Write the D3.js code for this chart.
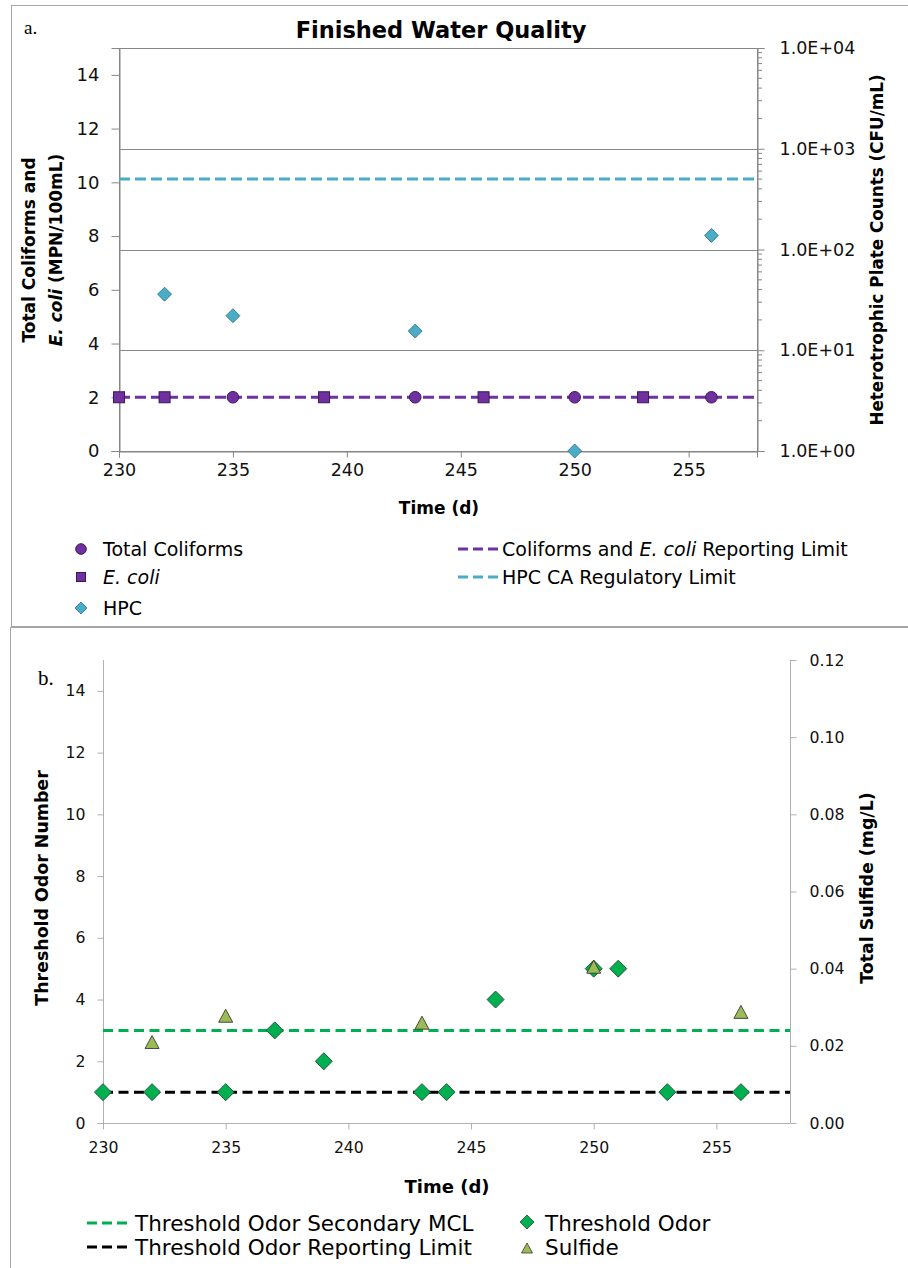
<!DOCTYPE html>
<html><head><meta charset="utf-8">
<script src="https://cdn.jsdelivr.net/npm/d3@7"></script>
<style>
body{margin:0;background:#fff;}
svg{display:block;font-family:"DejaVu Sans",sans-serif;}
</style></head>
<body><svg id="chart" width="908" height="1268"></svg>
<script>
// ---------- Data ----------
const xTicks = [230, 235, 240, 245, 250, 255];
const xDomain = [230, 258];

// Panel a
const coliformDays = [235, 243, 250, 256];
const coliformVals = [2, 2, 2, 2];
const ecoliDays = [230, 232, 239, 246, 253];
const ecoliVals = [2, 2, 2, 2, 2];
const hpcDays = [232, 235, 243, 250, 256];
const hpcVals = [36, 22, 15.5, 1, 138];
const coliformLimit = 2;
const hpcLimit = 500;
const leftTicksA = [0, 2, 4, 6, 8, 10, 12, 14];
const rightTicksA = [1, 10, 100, 1000, 10000];
const rightLabelsA = ["1.0E+00", "1.0E+01", "1.0E+02", "1.0E+03", "1.0E+04"];

// Panel b
const odorDays = [230, 232, 235, 237, 239, 243, 244, 246, 250, 251, 253, 256];
const odorVals = [1, 1, 1, 3, 2, 1, 1, 4, 5, 5, 1, 1];
const sulfideDays = [232, 235, 243, 250, 256];
const sulfideVals = [0.021, 0.0278, 0.026, 0.0405, 0.0288];
const odorMCL = 3;
const odorRL = 1;
const leftTicksB = [0, 2, 4, 6, 8, 10, 12, 14];
const rightTicksB = [0, 0.02, 0.04, 0.06, 0.08, 0.10, 0.12];

// ---------- Styles ----------
const C = {
  purple: "#7030A0", purpleStroke: "#3b1856",
  teal: "#4BACC6", tealStroke: "#2c6f82",
  green: "#00B050", greenStroke: "#1d4d2c",
  olive: "#9BBB59", oliveStroke: "#3a3a2a",
  axisA: "#868686", axisB: "#b0b0b0", border: "#a6a6a6", text: "#111"
};
const DASH = "11,5";

const svg = d3.select("#chart");
svg.append("rect").attr("width", 908).attr("height", 1268).attr("fill", "#fff");

// outer panel borders
svg.append("rect").attr("x", 11.5).attr("y", 5.5).attr("width", 900).attr("height", 621)
  .attr("fill", "none").attr("stroke", C.border);
svg.append("rect").attr("x", 10.5).attr("y", 627.5).attr("width", 900).attr("height", 650)
  .attr("fill", "none").attr("stroke", C.border);

function diamondPath(s) { return `M0,${-s}L${s},0L0,${s}L${-s},0Z`; }
function trianglePath(w, h) { return `M0,${-h/2}L${w/2},${h/2}L${-w/2},${h/2}Z`; }
function styleAxis(a, col, fs) {
  a.select(".domain").attr("stroke", col);
  a.selectAll(".tick line").attr("stroke", col);
  a.selectAll("text").attr("font-size", fs).attr("fill", C.text).attr("font-family", "DejaVu Sans");
}

// ================= PANEL A =================
{
  const L = 119, R = 757, T = 48, B = 451;
  const x = d3.scaleLinear().domain(xDomain).range([L, R]);
  const y = d3.scaleLinear().domain([0, 15]).range([B, T]);
  const yr = d3.scaleLog().domain([1, 10000]).range([B, T]);
  const g = svg.append("g");

  // gridlines at right-axis decades
  g.selectAll(".grid").data(rightTicksA.slice(1, -1)).join("line")
    .attr("x1", L).attr("x2", R).attr("y1", d => Math.round(yr(d)) + 0.5).attr("y2", d => Math.round(yr(d)) + 0.5)
    .attr("stroke", C.axisA).attr("stroke-width", 1);
  // plot box
  g.append("rect").attr("x", L + 0.5).attr("y", T + 0.5).attr("width", R - L).attr("height", B - T)
    .attr("fill", "none").attr("stroke", C.axisA);

  // left axis
  const la = g.append("g").attr("transform", `translate(${L + 0.5},0)`)
    .call(d3.axisLeft(y).tickValues(leftTicksA).tickSize(8).tickPadding(12).tickFormat(d3.format("d")));
  styleAxis(la, C.axisA, 18);

  // right log axis
  const minor = [];
  for (let e = 0; e < 4; e++) for (let k = 2; k <= 9; k++) minor.push(k * Math.pow(10, e));
  g.selectAll(".minor").data(minor).join("line")
    .attr("x1", R).attr("x2", R + 5).attr("y1", d => yr(d)).attr("y2", d => yr(d))
    .attr("stroke", C.axisA);
  const ra = g.append("g").attr("transform", `translate(${R + 0.5},0)`)
    .call(d3.axisRight(yr).tickValues(rightTicksA).tickSize(7).tickPadding(15)
      .tickFormat((d, i) => rightLabelsA[i]));
  styleAxis(ra, C.axisA, 17.5);

  // bottom axis
  const ba = g.append("g").attr("transform", `translate(0,${B + 0.5})`)
    .call(d3.axisBottom(x).tickValues(xTicks).tickSize(6).tickPadding(6).tickFormat(d3.format("d")));
  styleAxis(ba, C.axisA, 17.5);

  // limit lines
  g.append("line").attr("x1", L).attr("x2", R).attr("y1", yr(hpcLimit)).attr("y2", yr(hpcLimit))
    .attr("stroke", C.teal).attr("stroke-width", 3).attr("stroke-dasharray", DASH);
  g.append("line").attr("x1", L).attr("x2", R).attr("y1", y(coliformLimit)).attr("y2", y(coliformLimit))
    .attr("stroke", C.purple).attr("stroke-width", 3).attr("stroke-dasharray", DASH);

  // HPC diamonds
  g.selectAll(".hpc").data(hpcDays.map((d, i) => [d, hpcVals[i]])).join("path")
    .attr("d", diamondPath(7)).attr("transform", d => `translate(${x(d[0])},${yr(d[1])})`)
    .attr("fill", C.teal).attr("stroke", C.tealStroke).attr("stroke-width", 0.8);
  // E. coli squares
  g.selectAll(".ec").data(ecoliDays.map((d, i) => [d, ecoliVals[i]])).join("rect")
    .attr("x", d => x(d[0]) - 5.5).attr("y", d => y(d[1]) - 5.5).attr("width", 11).attr("height", 11)
    .attr("fill", C.purple).attr("stroke", C.purpleStroke).attr("stroke-width", 1);
  // Total coliforms circles
  g.selectAll(".tc").data(coliformDays.map((d, i) => [d, coliformVals[i]])).join("circle")
    .attr("cx", d => x(d[0])).attr("cy", d => y(d[1])).attr("r", 5.8)
    .attr("fill", C.purple).attr("stroke", C.purpleStroke).attr("stroke-width", 1);

  // title and labels
  svg.append("text").attr("x", 441).attr("y", 38).attr("text-anchor", "middle")
    .attr("font-size", 22.5).attr("font-weight", "bold").text("Finished Water Quality");
  svg.append("text").attr("x", 24).attr("y", 34).attr("font-family", "Liberation Serif,serif")
    .attr("font-size", 19).text("a.");
  svg.append("text").attr("x", 439).attr("y", 514).attr("text-anchor", "middle")
    .attr("font-size", 17).attr("font-weight", "bold").text("Time (d)");

  const lt = svg.append("text").attr("transform", "translate(35,250) rotate(-90)")
    .attr("text-anchor", "middle").attr("font-size", 17).attr("font-weight", "bold");
  lt.append("tspan").attr("x", 0).attr("dy", 0).text("Total Coliforms and");
  const l2 = lt.append("tspan").attr("x", 0).attr("dy", 27);
  l2.append("tspan").attr("font-style", "italic").text("E. coli");
  l2.append("tspan").text(" (MPN/100mL)");

  svg.append("text").attr("transform", "translate(883,250) rotate(-90)")
    .attr("text-anchor", "middle").attr("font-size", 16.8).attr("font-weight", "bold")
    .text("Heterotrophic Plate Counts (CFU/mL)");

  // legend
  const lg = svg.append("g").attr("font-size", 19);
  lg.append("circle").attr("cx", 81).attr("cy", 549).attr("r", 5.3).attr("fill", C.purple).attr("stroke", C.purpleStroke);
  lg.append("text").attr("x", 103).attr("y", 556).text("Total Coliforms");
  lg.append("rect").attr("x", 76.5).attr("y", 572.5).attr("width", 9).attr("height", 9).attr("fill", C.purple).attr("stroke", C.purpleStroke);
  lg.append("text").attr("x", 103).attr("y", 584).attr("font-style", "italic").text("E. coli");
  lg.append("path").attr("d", diamondPath(6)).attr("transform", "translate(81,608)").attr("fill", C.teal).attr("stroke", C.tealStroke).attr("stroke-width", 0.8);
  lg.append("text").attr("x", 103).attr("y", 615).text("HPC");

  lg.append("line").attr("x1", 458).attr("x2", 498).attr("y1", 549).attr("y2", 549)
    .attr("stroke", C.purple).attr("stroke-width", 3).attr("stroke-dasharray", "10,5");
  const t1 = lg.append("text").attr("x", 502).attr("y", 556);
  t1.append("tspan").text("Coliforms and ");
  t1.append("tspan").attr("font-style", "italic").text("E. coli");
  t1.append("tspan").text(" Reporting Limit");
  lg.append("line").attr("x1", 458).attr("x2", 498).attr("y1", 577).attr("y2", 577)
    .attr("stroke", C.teal).attr("stroke-width", 3).attr("stroke-dasharray", "10,5");
  lg.append("text").attr("x", 502).attr("y", 584).text("HPC CA Regulatory Limit");
}

// ================= PANEL B =================
{
  const L = 103, R = 790, T = 660, B = 1123;
  const x = d3.scaleLinear().domain(xDomain).range([L, R]);
  const y = d3.scaleLinear().domain([0, 15]).range([B, T]);
  const yr = d3.scaleLinear().domain([0, 0.12]).range([B, T]);
  const g = svg.append("g");

  const la = g.append("g").attr("transform", `translate(${L + 0.5},0)`)
    .call(d3.axisLeft(y).tickValues(leftTicksB).tickSize(6).tickPadding(12).tickFormat(d3.format("d")));
  styleAxis(la, C.axisB, 15.7);
  la.select(".domain").attr("d", `M0,${B}V${T}`);

  const ra = g.append("g").attr("transform", `translate(${R + 0.5},0)`)
    .call(d3.axisRight(yr).tickValues(rightTicksB).tickSize(6).tickPadding(13).tickFormat(d3.format(".2f")));
  styleAxis(ra, C.axisB, 15.7);
  ra.select(".domain").attr("d", `M0,${B}V${T}`);

  const ba = g.append("g").attr("transform", `translate(0,${B + 0.5})`)
    .call(d3.axisBottom(x).tickValues(xTicks).tickSize(6).tickPadding(12).tickFormat(d3.format("d")));
  styleAxis(ba, C.axisB, 15.7);
  ba.select(".domain").attr("d", `M${L},0H${R}`);

  g.append("line").attr("x1", L).attr("x2", R).attr("y1", y(odorMCL)).attr("y2", y(odorMCL))
    .attr("stroke", C.green).attr("stroke-width", 3).attr("stroke-dasharray", "10,5.5");
  g.append("line").attr("x1", L).attr("x2", R).attr("y1", y(odorRL)).attr("y2", y(odorRL))
    .attr("stroke", "#000").attr("stroke-width", 3).attr("stroke-dasharray", "10,5.5");

  g.selectAll(".od").data(odorDays.map((d, i) => [d, odorVals[i]])).join("path")
    .attr("d", diamondPath(8.5)).attr("transform", d => `translate(${x(d[0])},${y(d[1])})`)
    .attr("fill", C.green).attr("stroke", C.greenStroke).attr("stroke-width", 0.9);
  g.selectAll(".sf").data(sulfideDays.map((d, i) => [d, sulfideVals[i]])).join("path")
    .attr("d", trianglePath(14, 13)).attr("transform", d => `translate(${x(d[0])},${yr(d[1])})`)
    .attr("fill", C.olive).attr("stroke", C.oliveStroke).attr("stroke-width", 0.9);

  svg.append("text").attr("x", 38).attr("y", 685).attr("font-family", "Liberation Serif,serif")
    .attr("font-size", 21).text("b.");
  svg.append("text").attr("x", 447).attr("y", 1193).attr("text-anchor", "middle")
    .attr("font-size", 18).attr("font-weight", "bold").text("Time (d)");
  svg.append("text").attr("transform", "translate(48,888) rotate(-90)")
    .attr("text-anchor", "middle").attr("font-size", 17.4).attr("font-weight", "bold").text("Threshold Odor Number");
  svg.append("text").attr("transform", "translate(873,888) rotate(-90)")
    .attr("text-anchor", "middle").attr("font-size", 17.4).attr("font-weight", "bold").text("Total Sulfide (mg/L)");

  const lg = svg.append("g").attr("font-size", 21.5);
  lg.append("line").attr("x1", 87).attr("x2", 131).attr("y1", 1223).attr("y2", 1223)
    .attr("stroke", C.green).attr("stroke-width", 3).attr("stroke-dasharray", "10,5");
  lg.append("text").attr("x", 135).attr("y", 1231).text("Threshold Odor Secondary MCL");
  lg.append("line").attr("x1", 87).attr("x2", 131).attr("y1", 1247).attr("y2", 1247)
    .attr("stroke", "#000").attr("stroke-width", 3).attr("stroke-dasharray", "10,5");
  lg.append("text").attr("x", 135).attr("y", 1255).text("Threshold Odor Reporting Limit");
  lg.append("path").attr("d", diamondPath(7)).attr("transform", "translate(527,1222)")
    .attr("fill", C.green).attr("stroke", C.greenStroke).attr("stroke-width", 0.8);
  lg.append("text").attr("x", 545).attr("y", 1231).text("Threshold Odor");
  lg.append("path").attr("d", trianglePath(11, 10)).attr("transform", "translate(527,1248)")
    .attr("fill", C.olive).attr("stroke", C.oliveStroke).attr("stroke-width", 0.8);
  lg.append("text").attr("x", 545).attr("y", 1255).text("Sulfide");
}
</script></body></html>
